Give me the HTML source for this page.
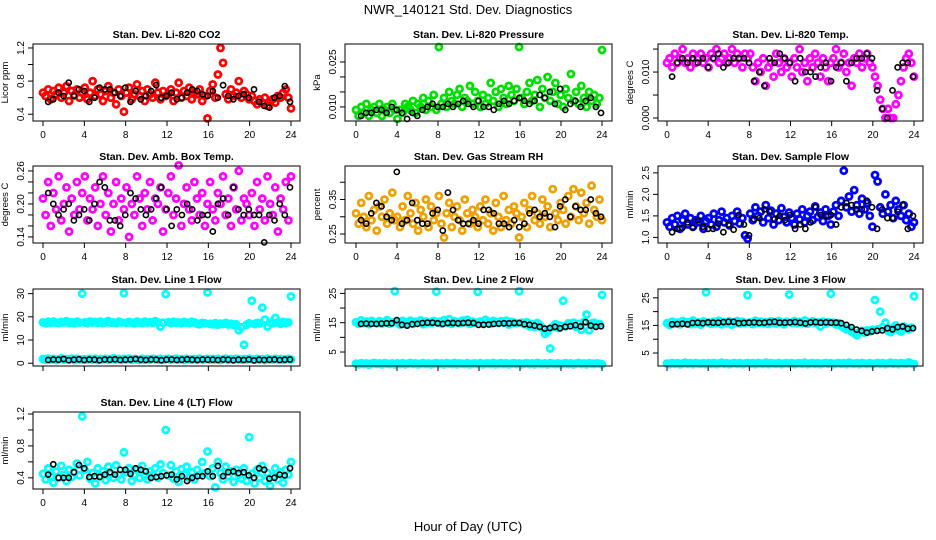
<!DOCTYPE html>
<html><head><meta charset="utf-8"><style>
html,body{margin:0;padding:0;background:#fff;}
svg{display:block;font-family:"Liberation Sans",Arial,sans-serif;}
</style></head><body>
<svg id="chart" width="936" height="540" viewBox="0 0 936 540" xmlns="http://www.w3.org/2000/svg">
<rect x="0" y="0" width="936" height="540" fill="#fff"/>
<text x="468" y="14" font-size="13" text-anchor="middle">NWR_140121  Std. Dev. Diagnostics</text>
<text x="468" y="531" font-size="13" text-anchor="middle">Hour of Day (UTC)</text>
</svg>
<script>
const hourTicks = [0,4,8,12,16,20,24];

const co2Red = [.66,.62,.70,.58,.68,.64,.72,.60,.66,.74,.56,.68,.63,.70,.60,.66,
.72,.58,.66,.80,.62,.70,.64,.56,.68,.74,.60,.66,.52,.70,.62,.43,
.66,.72,.58,.64,.76,.62,.68,.56,.70,.64,.60,.78,.66,.58,.68,.62,
.64,.70,.56,.66,.78,.60,.68,.62,.72,.58,.66,.64,.70,.56,.62,.35,
.68,.76,.60,.88,1.2,1.02,.64,.58,.70,.62,.66,.80,.60,.68,.64,.58,
.62,.56,.52,.58,.54,.60,.50,.56,.58,.54,.62,.60,.66,.70,.60,.47];
const co2Black = [.55,.58,.66,.62,.78,.62,.70,.68,.55,.60,.72,.70,.70,.66,.62,.72,.55,.68,.58,.62,.68,.75,.60,.62,.66,.58,.60,.66,.70,.68,.64,.62,.68,.60,.75,.62,.58,.62,.64,.60,.70,.55,.50,.48,.60,.62,.74,.55];

const presGreen = [.009,.007,.010,.008,.011,.007,.009,.010,.008,.011,.007,.009,.010,.008,.011,.009,
.006,.009,.008,.011,.010,.009,.012,.008,.011,.010,.013,.009,.012,.010,.014,.009,
.030,.011,.013,.010,.015,.012,.011,.014,.016,.010,.013,.012,.017,.011,.015,.012,
.010,.014,.011,.013,.018,.012,.015,.010,.016,.013,.011,.017,.014,.012,.016,.030,
.013,.011,.015,.018,.012,.014,.019,.010,.016,.013,.020,.012,.015,.018,.011,.014,
.010,.016,.013,.021,.012,.015,.011,.017,.013,.010,.015,.012,.014,.011,.013,.029];
const presBlack = [.007,.008,.008,.009,.009,.008,.010,.009,.008,.006,.008,.007,.009,.010,.011,.010,.010,.011,.010,.011,.012,.011,.010,.012,.010,.010,.009,.011,.012,.011,.012,.013,.012,.011,.012,.014,.013,.015,.011,.016,.009,.011,.012,.010,.012,.013,.010,.008];

const tempMagenta = [.012,.013,.011,.014,.012,.013,.015,.012,.013,.011,.014,.012,.013,.014,.012,.013,
.011,.014,.013,.015,.012,.013,.014,.012,.013,.015,.012,.014,.013,.011,.014,.013,
.014,.011,.008,.012,.010,.013,.007,.011,.012,.009,.014,.012,.010,.013,.011,.012,
.009,.013,.011,.015,.010,.012,.008,.013,.011,.014,.012,.009,.013,.011,.008,.012,
.013,.015,.011,.012,.014,.010,.012,.007,.013,.012,.014,.011,.013,.014,.012,.011,
.009,.007,.004,.002,.000,.002,.000,.000,.003,.005,.008,.011,.013,.014,.012,.009];
const tempBlack = [.009,.012,.013,.012,.013,.012,.013,.011,.013,.014,.011,.012,.013,.013,.013,.012,.008,.010,.007,.013,.012,.014,.013,.012,.008,.013,.010,.010,.009,.011,.012,.008,.011,.012,.008,.012,.013,.013,.014,.013,.006,.002,.000,.006,.011,.012,.012,.009];

const ambMagenta = [.21,.18,.24,.16,.22,.19,.25,.17,.20,.23,.15,.21,.18,.24,.19,.22,
.25,.17,.21,.19,.23,.16,.20,.25,.18,.22,.15,.20,.24,.17,.21,.19,
.23,.14,.20,.18,.25,.21,.16,.22,.19,.24,.17,.21,.20,.23,.15,.19,
.22,.25,.18,.21,.27,.16,.20,.23,.19,.17,.24,.21,.18,.22,.16,.20,
.24,.19,.17,.22,.20,.25,.18,.21,.16,.23,.19,.26,.17,.21,.20,.18,
.22,.16,.24,.19,.21,.17,.25,.20,.18,.23,.15,.21,.19,.24,.17,.25];
const ambBlack = [.22,.20,.18,.19,.20,.17,.18,.19,.17,.20,.24,.23,.17,.17,.16,.18,.22,.21,.19,.18,.19,.21,.23,.19,.16,.19,.18,.20,.19,.17,.18,.18,.15,.20,.21,.18,.23,.19,.18,.19,.18,.18,.13,.18,.17,.20,.18,.23];

const rhOrange = [.31,.28,.34,.30,.27,.36,.29,.32,.26,.33,.30,.35,.28,.31,.37,.29,
.30,.27,.33,.29,.36,.31,.28,.34,.26,.32,.30,.35,.27,.33,.29,.31,
.36,.28,.24,.31,.34,.27,.30,.33,.29,.26,.35,.31,.28,.32,.30,.27,
.33,.29,.35,.28,.31,.26,.34,.30,.27,.36,.29,.32,.28,.33,.31,.24,
.30,.34,.27,.32,.36,.29,.31,.28,.35,.30,.33,.27,.38,.31,.29,.34,
.32,.28,.36,.30,.38,.33,.29,.37,.31,.34,.28,.39,.32,.30,.35,.29];
const rhBlack = [.29,.28,.31,.34,.33,.30,.29,.43,.28,.29,.34,.29,.28,.28,.31,.32,.26,.37,.32,.29,.28,.28,.29,.28,.32,.32,.31,.28,.28,.27,.29,.27,.28,.31,.32,.30,.31,.30,.27,.33,.35,.30,.33,.32,.32,.35,.31,.30];

const flowBlue = [1.35,1.25,1.45,1.30,1.50,1.20,1.40,1.55,1.30,1.45,1.25,1.40,1.35,1.50,1.20,1.38,
1.45,1.30,1.55,1.25,1.40,1.60,1.35,1.45,1.28,1.50,1.38,1.60,1.32,1.45,1.05,0.97,
1.55,1.40,1.70,1.50,1.60,1.35,1.75,1.45,1.62,1.30,1.55,1.40,1.68,1.48,1.35,1.58,
1.45,1.30,1.55,1.42,1.65,1.35,1.50,1.60,1.40,1.72,1.48,1.58,1.38,1.65,1.50,1.30,
1.60,1.75,1.50,1.85,2.55,1.70,1.95,1.60,2.10,1.75,1.55,1.90,1.65,1.80,1.50,1.25,
2.45,2.30,1.70,1.55,2.00,1.60,1.75,1.45,1.85,1.65,1.50,1.75,1.40,1.55,1.25,1.35];
const flowBlack = [1.12,1.20,1.22,1.35,1.22,1.40,1.25,1.20,1.20,1.32,1.12,1.30,1.18,1.52,1.30,1.05,1.42,1.45,1.65,1.60,1.42,1.50,1.40,1.52,1.20,1.30,1.20,1.35,1.70,1.52,1.50,1.52,1.30,1.70,1.80,1.75,1.65,1.65,1.85,1.70,1.20,1.65,1.45,1.45,1.60,1.75,1.20,1.50];

const line1High = [17.6,17.2,17.9,17.4,18.0,17.5,17.3,17.8,17.6,18.1,17.4,17.7,17.2,17.9,17.5,30.0,
17.6,17.3,18.0,17.5,17.8,17.4,17.9,17.3,17.7,18.2,17.5,17.6,17.3,17.9,17.6,30.2,
17.4,17.8,17.5,17.2,18.0,17.6,17.3,17.9,17.5,17.7,17.4,18.1,17.6,15.8,17.5,29.8,
17.7,17.3,17.9,17.4,17.6,17.2,17.8,17.5,17.3,17.9,17.6,17.0,16.8,17.4,17.2,30.5,
17.0,16.8,17.3,16.6,17.1,16.9,17.4,16.7,17.0,16.5,16.8,14.2,15.5,8.0,16.6,17.2,
27.0,16.9,17.4,17.2,24.0,18.8,15.8,17.5,17.2,19.5,17.6,17.0,17.8,17.3,17.6,28.8];
const line1Low = [1.8,1.5,2.0,1.6,1.9,1.4,1.7,2.1,1.5,1.8,1.6,2.0,1.4,1.9,1.7,1.5,
1.7,1.6,1.9,1.5,2.0,1.4,1.8,1.6,1.9,1.5,1.7,2.1,1.6,1.8,1.5,1.9,
1.6,2.0,1.5,1.8,1.7,1.4,1.9,1.6,1.8,1.5,2.0,1.7,1.6,1.9,1.5,1.8,
1.9,1.5,1.7,2.0,1.6,1.8,1.4,1.9,1.7,1.5,1.8,1.6,2.0,1.5,1.7,1.9,
1.5,1.8,1.6,1.9,1.4,1.7,2.0,1.5,1.8,1.6,1.9,1.7,1.5,1.8,1.6,2.0,
1.7,1.5,1.9,1.6,1.8,1.4,2.0,1.7,1.5,1.9,1.6,1.8,1.5,1.7,1.9,1.6];
const line1Black = [1.4,1.6,1.5,1.8,1.3,1.5,1.7,1.4,1.6,1.5,1.3,1.6,1.5,1.7,1.4,1.5,1.6,1.8,1.5,1.4,1.6,1.5,1.3,1.5,1.6,1.4,1.5,1.7,1.5,1.4,1.6,1.5,1.5,1.4,1.6,1.5,1.3,1.5,1.4,1.6,1.2,1.5,1.4,1.5,1.6,1.4,1.5,1.6];

const line2High = [15.2,14.6,15.8,14.9,15.4,14.5,15.6,15.0,14.8,15.5,14.7,15.3,15.9,14.6,15.1,25.8,
15.0,14.4,15.6,15.2,14.8,15.7,14.6,15.3,15.0,15.8,14.5,15.4,15.1,14.9,15.6,25.6,
15.3,14.7,15.9,15.0,16.2,14.6,15.5,15.2,14.8,15.7,15.1,16.0,14.6,15.4,15.0,25.5,
15.4,14.8,16.0,15.1,14.6,15.6,15.2,14.9,15.5,15.0,15.7,14.4,15.3,15.0,14.8,25.8,
15.0,14.5,15.2,13.8,14.6,13.5,14.9,14.2,13.2,11.2,12.0,6.2,13.6,14.5,13.2,14.0,
22.5,13.8,14.8,14.2,15.0,13.6,14.6,12.6,15.2,17.8,12.4,14.8,15.0,14.2,14.6,24.5];
const line2Low = [1.0,0.8,1.2,0.9,1.1,0.7,1.0,1.3,0.9,1.1,0.8,1.2,1.0,0.9,1.1,0.8,
1.1,0.9,1.2,0.8,1.0,1.3,0.9,1.1,0.8,1.0,1.2,0.9,1.1,0.8,1.0,1.2,
0.9,1.1,0.8,1.2,1.0,0.9,1.3,0.8,1.1,1.0,0.9,1.2,0.8,1.0,1.1,0.9,
1.2,0.8,1.0,1.1,0.9,1.3,0.8,1.0,1.2,0.9,1.1,0.8,1.0,1.2,0.9,1.1,
0.8,1.0,1.2,0.9,1.1,0.8,1.3,1.0,0.9,1.1,0.8,1.2,1.0,0.9,1.1,0.8,
1.0,1.2,0.9,1.1,0.8,1.0,1.3,0.9,1.1,0.8,1.2,1.0,0.9,1.1,1.0,0.8];
const line2Black = [14.6,14.7,14.6,14.6,14.7,14.8,14.8,15.9,14.3,14.0,14.5,14.6,14.9,15.0,15.0,14.8,14.6,14.9,14.9,14.8,14.9,15.0,14.9,14.3,14.3,14.4,14.6,14.7,14.8,14.8,14.9,14.9,14.5,14.3,14.0,13.6,13.0,13.2,13.6,13.1,13.6,13.8,14.2,13.7,15.2,14.0,13.6,13.8];

const line3High = [15.8,15.2,16.4,15.6,16.0,15.4,16.6,15.9,16.2,15.5,16.8,15.7,16.1,15.3,16.5,27.0,
16.0,15.6,16.4,15.9,16.7,15.4,16.2,15.8,16.5,15.3,16.0,16.6,15.7,16.3,15.9,26.0,
16.1,15.5,16.7,15.9,16.4,15.8,16.2,15.6,16.5,16.0,15.7,16.6,16.1,15.4,16.3,26.2,
16.0,16.6,15.8,16.3,15.9,16.8,15.6,16.2,16.5,15.9,16.1,14.6,16.4,15.7,16.2,26.5,
16.0,15.4,15.8,14.8,14.2,13.6,13.8,12.8,12.2,11.5,12.6,13.0,12.4,13.2,12.8,13.4,
24.2,13.6,20.0,14.4,16.0,13.0,12.6,14.2,15.0,13.4,12.8,14.6,14.0,13.6,14.2,25.6];
const line3Low = [1.2,1.0,1.4,1.1,1.3,0.9,1.2,1.5,1.1,1.3,1.0,1.4,1.2,1.1,1.3,1.0,
1.3,1.1,1.4,1.0,1.2,1.5,1.1,1.3,1.0,1.2,1.4,1.1,1.3,1.0,1.2,1.4,
1.1,1.3,1.0,1.4,1.2,1.1,1.5,1.0,1.3,1.2,1.1,1.4,1.0,1.2,1.3,1.1,
1.4,1.0,1.2,1.3,1.1,1.5,1.0,1.2,1.4,1.1,1.3,1.0,1.2,1.4,1.1,1.3,
1.0,1.2,1.4,1.1,1.3,1.0,1.5,1.2,1.1,1.3,1.0,1.4,1.2,1.1,1.3,1.0,
1.2,1.4,1.1,1.3,1.0,1.2,1.5,1.1,1.3,1.0,1.4,1.2,1.1,1.6,1.2,1.0];
const line3Black = [15.4,15.5,15.6,15.4,15.9,16.0,15.8,16.1,16.0,16.0,16.2,16.3,16.3,15.8,15.9,16.0,16.1,15.9,16.0,16.2,16.3,16.0,16.0,16.1,16.2,16.0,15.7,16.1,16.2,16.0,16.1,16.0,16.0,15.8,15.2,14.4,13.5,13.0,12.4,12.8,13.0,13.2,14.0,13.6,14.4,14.6,13.8,14.0];

const line4Cyan = [.45,.38,.52,.42,.34,.48,.40,.55,.44,.36,.50,.41,.47,.58,.43,1.17,
.50,.60,.39,.46,.33,.52,.42,.48,.37,.54,.45,.40,.56,.44,.38,.72,
.47,.52,.36,.44,.50,.40,.55,.42,.38,.48,.44,.52,.40,.57,.46,1.00,
.43,.56,.39,.48,.35,.51,.44,.54,.40,.47,.38,.50,.44,.60,.46,.73,
.42,.52,.28,.60,.46,.38,.54,.42,.48,.35,.50,.44,.39,.52,.36,.91,
.45,.33,.50,.40,.55,.36,.46,.30,.42,.52,.38,.47,.34,.50,.44,.60];
const line4Black = [.44,.57,.40,.40,.40,.47,.56,.52,.41,.42,.41,.44,.47,.44,.50,.50,.45,.52,.50,.48,.40,.41,.42,.43,.44,.38,.42,.36,.40,.42,.42,.48,.42,.55,.42,.47,.48,.46,.47,.43,.40,.52,.50,.39,.40,.44,.43,.52];

const NS = "http://www.w3.org/2000/svg";
const svg = document.getElementById('chart');
const colBox = [[33,300,43,291],[345,612,356,602],[658,923,667,914]];
const rowTop = [44,166,289,412];
const boxH = 77;

function mk(tag, attrs, parent){
  const e = document.createElementNS(NS, tag);
  for (const k in attrs) e.setAttribute(k, attrs[k]);
  (parent||svg).appendChild(e);
  return e;
}

const panels = [
 {key:'co2', col:0,row:0,title:'Stan. Dev. Li-820 CO2',ylab:'Licor ppm',ymin:0.318,ymax:1.248,ticks:[0.4,0.6,0.8,1.0,1.2],labs:['0.4','','0.8','','1.2'],series:[[co2Red,'#ff0000'],[co2Black,'#000']],xl:true},
 {key:'pressure', col:1,row:0,title:'Stan. Dev. Li-820 Pressure',ylab:'kPa',ymin:0.0053,ymax:0.031,ticks:[0.010,0.015,0.020,0.025],labs:['0.010','','','0.025'],series:[[presGreen,'#00e000'],[presBlack,'#000']],xl:true},
 {key:'li820-temp', col:2,row:0,title:'Stan. Dev. Li-820 Temp.',ylab:'degrees C',ymin:-0.00065,ymax:0.0161,ticks:[0,0.005,0.010,0.015],labs:['0.000','','0.010',''],series:[[tempMagenta,'#ff00ff'],[tempBlack,'#000']],xl:true},
 {key:'amb-box-temp', col:0,row:1,title:'Stan. Dev. Amb. Box Temp.',ylab:'degrees C',ymin:0.129,ymax:0.269,ticks:[0.14,0.16,0.18,0.20,0.22,0.24,0.26],labs:['0.14','','','0.20','','','0.26'],series:[[ambMagenta,'#ff00ff'],[ambBlack,'#000']],xl:true},
 {key:'gas-rh', col:1,row:1,title:'Stan. Dev. Gas Stream RH',ylab:'percent',ymin:0.224,ymax:0.447,ticks:[0.25,0.30,0.35,0.40],labs:['0.25','','0.35',''],series:[[rhOrange,'#f0a000'],[rhBlack,'#000']],xl:true},
 {key:'sample-flow', col:2,row:1,title:'Stan. Dev. Sample Flow',ylab:'ml/min',ymin:0.87,ymax:2.66,ticks:[1.0,1.5,2.0,2.5],labs:['1.0','1.5','2.0','2.5'],series:[[flowBlue,'#0000ff'],[flowBlack,'#000']],xl:true},
 {key:'line1-flow', col:0,row:2,title:'Stan. Dev. Line 1 Flow',ylab:'ml/min',ymin:-1.2,ymax:32,ticks:[0,10,20,30],labs:['0','10','20','30'],series:[[line1High,'#00ffff'],[line1Low,'#00ffff'],[line1Black,'#000']],xl:false},
 {key:'line2-flow', col:1,row:2,title:'Stan. Dev. Line 2 Flow',ylab:'ml/min',ymin:0.23,ymax:26.5,ticks:[5,10,15,20,25],labs:['5','','15','','25'],series:[[line2High,'#00ffff'],[line2Low,'#00ffff'],[line2Black,'#000']],xl:false},
 {key:'line3-flow', col:2,row:2,title:'Stan. Dev. Line 3 Flow',ylab:'ml/min',ymin:0.3,ymax:28.2,ticks:[5,10,15,20,25],labs:['5','','15','','25'],series:[[line3High,'#00ffff'],[line3Low,'#00ffff'],[line3Black,'#000']],xl:false},
 {key:'line4-flow', col:0,row:3,title:'Stan. Dev. Line 4 (LT) Flow',ylab:'ml/min',ymin:0.26,ymax:1.225,ticks:[0.4,0.6,0.8,1.0,1.2],labs:['0.4','','0.8','','1.2'],series:[[line4Cyan,'#00ffff'],[line4Black,'#000']],xl:true}
];

panels.forEach(p=>{
  const [bl,br,x0,x24] = colBox[p.col];
  const bt = rowTop[p.row], bb = bt+boxH;
  const xs = h => x0 + (x24-x0)*h/24;
  const ys = v => bb - (v-p.ymin)/(p.ymax-p.ymin)*boxH;
  const g = mk('g',{});
  
  
  const t = mk('text',{x:(bl+br)/2,y:bt-6,'font-size':10.5,'font-weight':'bold','text-anchor':'middle'},g);
  t.textContent = p.title;
  
  
  const yl = mk('text',{x:0,y:0,'font-size':9.5,'text-anchor':'middle',transform:`translate(${bl-25},${(bt+bb)/2}) rotate(-90)`},g);
  yl.textContent = p.ylab;
  
  
  const marks = mk('g',{fill:'none'},g);
  
  
  p.series.forEach(([arr,col])=>{
    const n = arr.length;
    const black = col==='#000';
    arr.forEach((v,i)=>{
      const h = black ? 0.5 + i*23.4/(n-1) : i*24/(n-1);
      const c = mk('circle',{cx:xs(h).toFixed(1),cy:ys(v).toFixed(1),r:black?2.6:3,stroke:col,'stroke-width':black?1.6:2.8},marks);
      
      
    });
  });
  const box = mk('rect',{x:bl,y:bt,width:br-bl,height:boxH,fill:'none',stroke:'#000','stroke-width':1},g);
  
  
  const xa = mk('g',{},g);
  
  
  mk('line',{x1:xs(0),x2:xs(24),y1:bb,y2:bb,stroke:'#000'},xa);
  hourTicks.forEach(h=>{
    mk('line',{x1:xs(h),x2:xs(h),y1:bb,y2:bb+5,stroke:'#000'},xa);
    if(p.xl){
      const tl = mk('text',{x:xs(h),y:bb+17,'font-size':10,'text-anchor':'middle'},xa);
      tl.textContent = h;
      
      
    }
  });
  const ya = mk('g',{},g);
  
  
  mk('line',{x1:bl,x2:bl,y1:ys(p.ticks[0]),y2:ys(p.ticks[p.ticks.length-1]),stroke:'#000'},ya);
  p.ticks.forEach((v,i)=>{
    mk('line',{x1:bl-5,x2:bl,y1:ys(v),y2:ys(v),stroke:'#000'},ya);
    if(p.labs[i]){
      const tl = mk('text',{x:0,y:0,'font-size':10,'text-anchor':'middle',transform:`translate(${bl-9},${ys(v)}) rotate(-90)`},ya);
      tl.textContent = p.labs[i];
      
      
    }
  });
});
</script>
</body></html>
